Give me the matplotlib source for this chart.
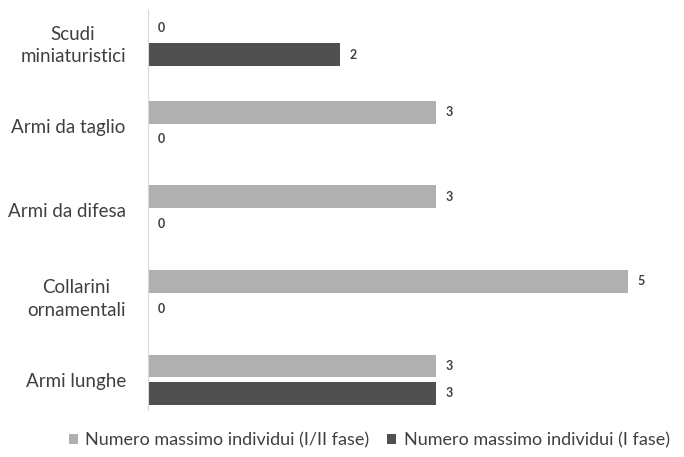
import matplotlib.pyplot as plt
import numpy as np

# Categories from bottom to top (as drawn by barh)
categories = ["Armi lunghe", "Collarini\nornamentali", "Armi da difesa",
              "Armi da taglio", "Scudi\nminiaturistici"]
fase_1_2 = [3, 5, 3, 3, 0]
fase_1 = [3, 0, 0, 0, 2]
label_1_2 = "Numero massimo individui (I/II fase)"
label_1 = "Numero massimo individui (I fase)"

light = "#b0b0b0"
dark = "#505050"
text_color = "#404040"

plt.rcParams["font.family"] = ["Lato", "DejaVu Sans"]

fig = plt.figure(figsize=(6.84, 4.57), dpi=100)
ax = fig.add_axes([148 / 684, 1 - 410 / 457, 528 / 684, 400 / 457])

y = np.arange(len(categories))
h = 0.27
off = 0.16
b1 = ax.barh(y + off, fase_1_2, height=h, color=light, label=label_1_2)
b2 = ax.barh(y - off, fase_1, height=h, color=dark, label=label_1)

# Value labels next to each bar
for bars, vals in ((b1, fase_1_2), (b2, fase_1)):
    for bar, v in zip(bars, vals):
        ax.text(v + 0.1, bar.get_y() + bar.get_height() / 2, str(v),
                va="center", ha="left", fontsize=9, fontweight="bold",
                color=text_color)

ax.set_xlim(0, 5.5)
ax.set_ylim(-0.36, 4.37)
ax.set_yticks(y)
ax.set_yticklabels(categories, fontsize=13.5, color=text_color,
                   multialignment="center", linespacing=1.4)
ax.tick_params(axis="y", length=0, pad=16)
ax.set_xticks([])
for side in ("top", "right", "bottom"):
    ax.spines[side].set_visible(False)
ax.spines["left"].set_color("#d9d9d9")

fig.legend(handles=[b1, b2], loc="center", bbox_to_anchor=(0.54, 1 - 440 / 457),
           ncol=2, frameon=False, fontsize=13, handlelength=0.5,
           handleheight=0.5, handletextpad=0.4, columnspacing=1.0,
           labelcolor=text_color)

fig.savefig("out.png", dpi=100)
